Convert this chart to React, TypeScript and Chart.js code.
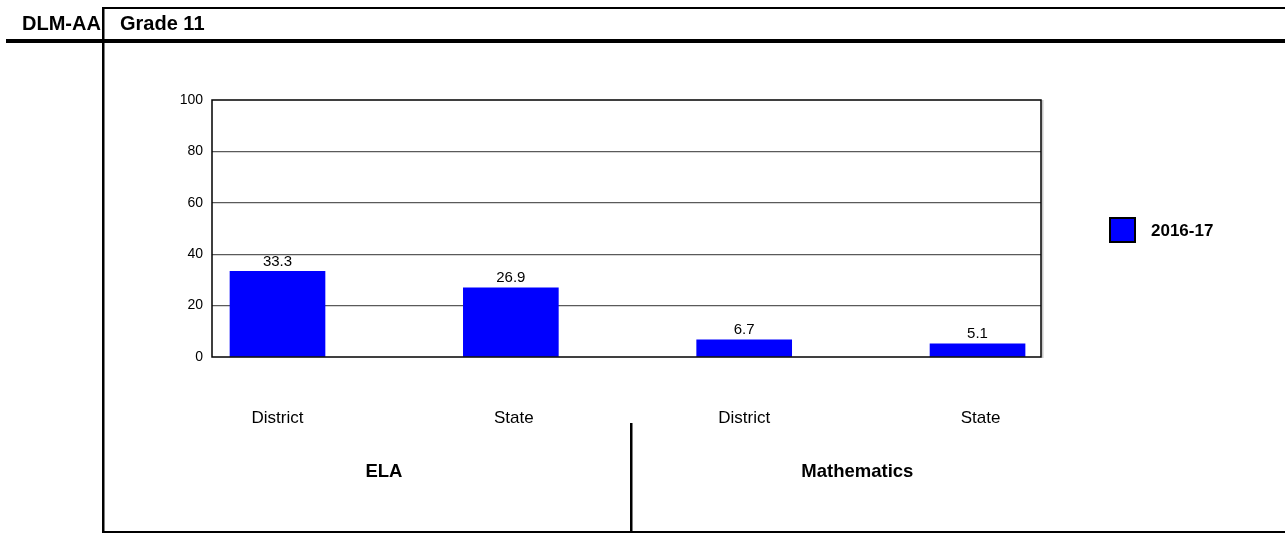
import { useEffect, useRef } from "react";
import { Chart, registerables } from "chart.js";

Chart.register(...registerables);

const categories = ["District", "State", "District", "State"];
const groups = ["ELA", "Mathematics"];
const values = [33.3, 26.9, 6.7, 5.1];
const seriesLabel = "2016-17";
const yTicks = [0, 20, 40, 60, 80, 100];
const headerLeft = "DLM-AA";
const headerRight = "Grade 11";

const FONT = "'Liberation Sans', Arial, Helvetica, sans-serif";
const BLUE = "#0000ff";
const W = 1285;
const H = 533;

export default function App() {
  const ref = useRef<HTMLCanvasElement>(null);

  useEffect(() => {
    const canvas = ref.current!;

    const overlay = {
      id: "overlay",
      afterDraw(chart: any) {
        const ctx = chart.ctx as CanvasRenderingContext2D;
        const { left, right, top, bottom } = chart.chartArea;
        const xs = chart.scales.x;
        const meta = chart.getDatasetMeta(0);
        ctx.save();

        // plot frame
        ctx.strokeStyle = "#c8c8c8";
        ctx.lineWidth = 2;
        ctx.beginPath();
        ctx.moveTo(right + 1.5, top);
        ctx.lineTo(right + 1.5, bottom + 1);
        ctx.stroke();
        ctx.strokeStyle = "#000";
        ctx.lineWidth = 1.5;
        ctx.strokeRect(left, top, right - left, bottom - top);

        // value labels
        ctx.fillStyle = "#000";
        ctx.font = `15px ${FONT}`;
        ctx.textAlign = "center";
        ctx.textBaseline = "alphabetic";
        meta.data.forEach((bar: any, i: number) => {
          ctx.fillText(values[i].toFixed(1), bar.x, bar.y - 5.5);
        });

        // category labels
        ctx.font = `17px ${FONT}`;
        categories.forEach((c, i) => {
          ctx.fillText(c, xs.getPixelForValue(i) + (i % 2 === 1 ? 3 : 0), 423);
        });

        // group labels
        ctx.font = `bold 18.5px ${FONT}`;
        const groupPos = [0.456, 2.485];
        groups.forEach((g, i) => {
          ctx.fillText(g, xs.getPixelForValue(groupPos[i]), 477);
        });

        // group separator
        const sepX = Math.round(xs.getPixelForValue(1.515));
        ctx.fillRect(sepX - 1, 423, 2.5, H - 423);

        // outer frame
        ctx.fillRect(103, 7, W - 103, 2);
        ctx.fillRect(6, 39, W - 6, 4);
        ctx.fillRect(102, 7, 2.5, H - 7);
        ctx.fillRect(102, 531, W - 102, 2);

        // header
        ctx.font = `bold 20px ${FONT}`;
        ctx.textAlign = "left";
        ctx.fillText(headerLeft, 22, 30);
        ctx.fillText(headerRight, 120, 30);

        // legend
        ctx.fillStyle = BLUE;
        ctx.fillRect(1110, 218, 25, 24);
        ctx.strokeStyle = "#000";
        ctx.lineWidth = 2;
        ctx.strokeRect(1110, 218, 25, 24);
        ctx.fillStyle = "#000";
        ctx.font = `bold 17px ${FONT}`;
        ctx.textBaseline = "middle";
        ctx.fillText(seriesLabel, 1151, 231);

        ctx.restore();
      },
    };

    const chart = new Chart(canvas, {
      type: "bar",
      data: {
        datasets: [
          {
            label: seriesLabel,
            data: values.map((v, i) => ({ x: i, y: v })),
            backgroundColor: BLUE,
            borderWidth: 0,
            barThickness: 95,
          },
        ],
      },
      options: {
        responsive: false,
        animation: false,
        devicePixelRatio: 1,
        layout: { padding: { left: 172, right: 244, top: 100, bottom: 176 } },
        plugins: { legend: { display: false }, tooltip: { enabled: false } },
        scales: {
          x: {
            type: "linear",
            display: false,
            offset: false,
            min: -0.2807,
            max: 3.272,
          },
          y: {
            min: 0,
            max: 100,
            afterFit: (s: any) => {
              s.width = 40;
            },
            afterBuildTicks: (s: any) => {
              s.ticks = yTicks.map((v) => ({ value: v }));
            },
            border: { display: false },
            grid: {
              drawTicks: false,
              color: (c: any) =>
                c.tick && (c.tick.value === 0 || c.tick.value === 100) ? "rgba(0,0,0,0)" : "#5a5a5a",
              lineWidth: 1.3,
            },
            ticks: {
              padding: 9,
              color: "#000",
              font: { family: FONT, size: 14 },
            },
          },
        },
      },
      plugins: [overlay],
    } as any);

    return () => chart.destroy();
  }, []);

  return (
    <div style={{ position: "fixed", left: 0, top: 0, width: W, height: H, background: "#fff" }}>
      <canvas ref={ref} width={W} height={H} style={{ display: "block" }} />
    </div>
  );
}
